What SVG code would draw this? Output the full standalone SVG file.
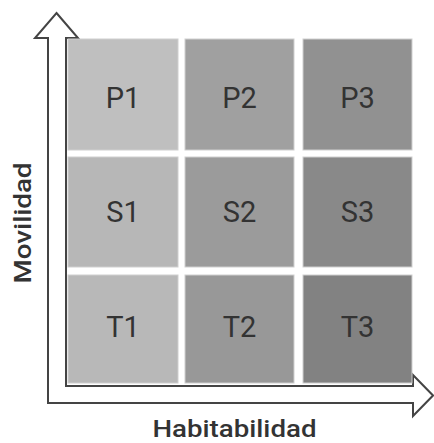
<svg xmlns="http://www.w3.org/2000/svg" width="434" height="443" viewBox="0 0 434 443">
<style>
.cell{stroke:#cfcfcf;stroke-width:1}
.lbl{font-family:Roboto,"Liberation Sans",sans-serif;font-size:29px;fill:#333;text-anchor:middle}
.axis{font-family:Roboto,"Liberation Sans",sans-serif;font-size:23px;font-weight:500;fill:#333;text-anchor:middle}
.arrow{fill:#fff;stroke:#444;stroke-width:2;stroke-linejoin:miter}
</style>
<rect width="434" height="443" fill="#fff"/>
<g id="connectors">
<path class="arrow" d="M56.5,13 L78,38 L66,38 L66,386 L413,386 L413,375 L433,395.5 L413,416 L413,403 L48,403 L48,38 L35,38 Z"/>
</g>
<g id="P1"><rect class="cell" x="68" y="39" width="110" height="111" fill="#bfbfbf"/><text class="lbl" x="123" y="108">P1</text></g>
<g id="P2"><rect class="cell" x="185" y="39" width="109" height="111" fill="#a0a0a0"/><text class="lbl" x="239.5" y="108">P2</text></g>
<g id="P3"><rect class="cell" x="303" y="39" width="109" height="111" fill="#919191"/><text class="lbl" x="357.5" y="108">P3</text></g>
<g id="S1"><rect class="cell" x="68" y="157" width="110" height="110" fill="#b7b7b7"/><text class="lbl" x="123" y="222">S1</text></g>
<g id="S2"><rect class="cell" x="185" y="157" width="109" height="110" fill="#9b9b9b"/><text class="lbl" x="239.5" y="222">S2</text></g>
<g id="S3"><rect class="cell" x="303" y="157" width="109" height="110" fill="#898989"/><text class="lbl" x="357.5" y="222">S3</text></g>
<g id="T1"><rect class="cell" x="68" y="275" width="110" height="108" fill="#b8b8b8"/><text class="lbl" x="123" y="337">T1</text></g>
<g id="T2"><rect class="cell" x="185" y="275" width="109" height="108" fill="#989898"/><text class="lbl" x="239.5" y="337">T2</text></g>
<g id="T3"><rect class="cell" x="303" y="275" width="109" height="108" fill="#828282"/><text class="lbl" x="357.5" y="337">T3</text></g>
<g id="axis-x"><text class="axis" x="234.5" y="437" textLength="164" lengthAdjust="spacingAndGlyphs">Habitabilidad</text></g>
<g id="axis-y"><text class="axis" transform="translate(31,223) rotate(-90)" x="0" y="0" textLength="121" lengthAdjust="spacingAndGlyphs">Movilidad</text></g>
</svg>
